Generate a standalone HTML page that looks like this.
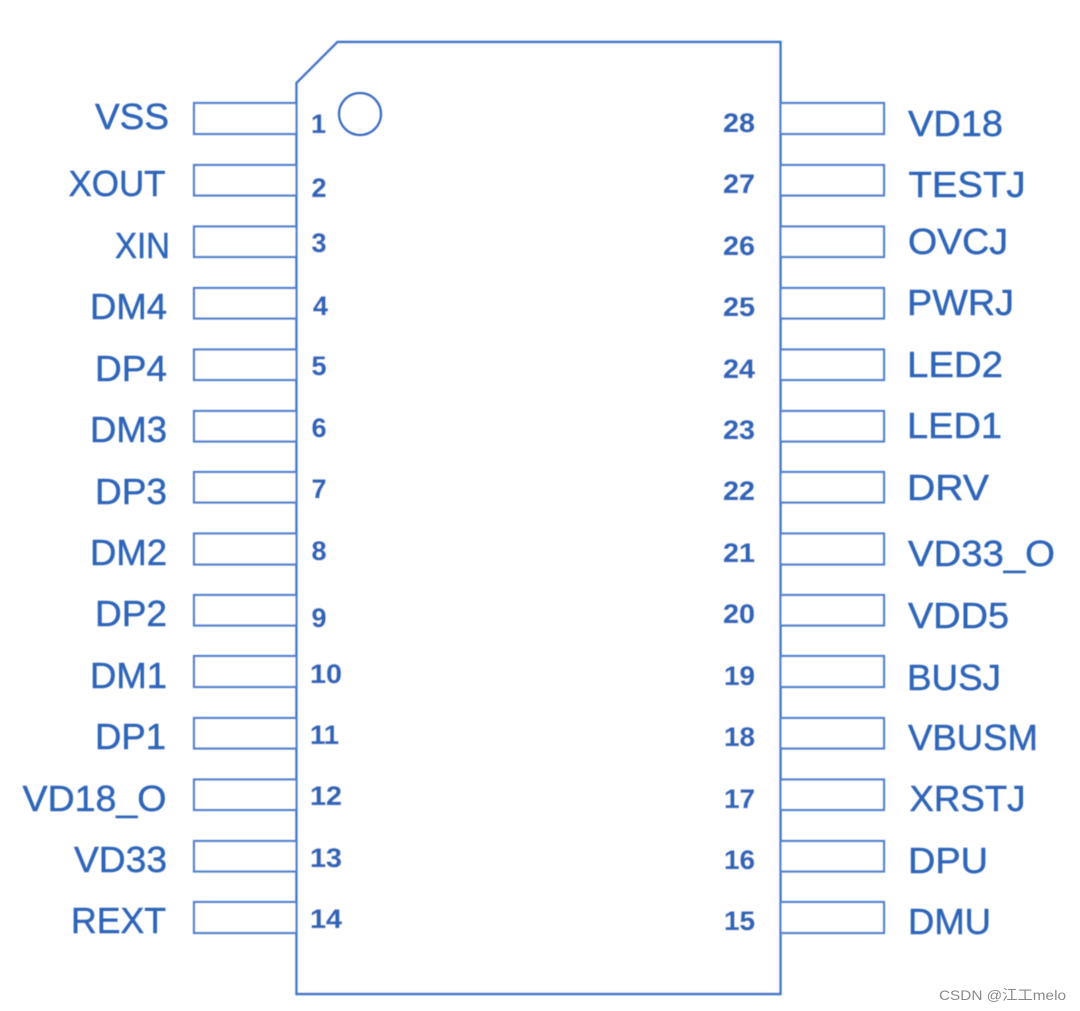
<!DOCTYPE html>
<html><head><meta charset="utf-8"><style>
html,body{margin:0;padding:0;background:#fff;width:1080px;height:1011px;overflow:hidden}
svg{display:block}
.l{font:36px "Liberation Sans",sans-serif;fill:#2f65b8;stroke:#2f65b8;stroke-width:.45}
.n{font:bold 27px "Liberation Sans",sans-serif;fill:#2f65b8;stroke:#2f65b8;stroke-width:.3}
.p{fill:#fff;stroke:#4f80cc;stroke-width:2.2}
.w{font:14px "Liberation Sans","Noto Sans CJK SC",sans-serif;fill:#8a8a8a}
</style></head><body>
<svg width="1080" height="1011" viewBox="0 0 1080 1011" xmlns="http://www.w3.org/2000/svg">
<defs><filter id="b" x="-5%" y="-5%" width="110%" height="110%"><feGaussianBlur stdDeviation="0.5"/></filter></defs>
<g filter="url(#b)">
<path d="M296.5 83 L337.5 42 H780.5 V994 H296.5 Z" fill="#fff" stroke="#3f74c6" stroke-width="2.4"/>
<circle cx="360" cy="114" r="21" fill="none" stroke="#3670c4" stroke-width="2.6"/>
<g class="p">
<rect x="194" y="103" width="102.5" height="31"/><rect x="194" y="165" width="102.5" height="30.5"/><rect x="194" y="226.5" width="102.5" height="30.5"/><rect x="194" y="288" width="102.5" height="30.5"/><rect x="194" y="349.5" width="102.5" height="30.5"/><rect x="194" y="411" width="102.5" height="30.5"/><rect x="194" y="472" width="102.5" height="30.5"/><rect x="194" y="533.5" width="102.5" height="31"/><rect x="194" y="595" width="102.5" height="30.5"/><rect x="194" y="656" width="102.5" height="31"/><rect x="194" y="718" width="102.5" height="30.5"/><rect x="194" y="779.5" width="102.5" height="30.5"/><rect x="194" y="841" width="102.5" height="30.5"/><rect x="194" y="902" width="102.5" height="31"/>
<rect x="780.5" y="103" width="103.5" height="31"/><rect x="780.5" y="165" width="103.5" height="30.5"/><rect x="780.5" y="226.5" width="103.5" height="30.5"/><rect x="780.5" y="288" width="103.5" height="30.5"/><rect x="780.5" y="349.5" width="103.5" height="30.5"/><rect x="780.5" y="411" width="103.5" height="30.5"/><rect x="780.5" y="472" width="103.5" height="30.5"/><rect x="780.5" y="533.5" width="103.5" height="31"/><rect x="780.5" y="595" width="103.5" height="30.5"/><rect x="780.5" y="656" width="103.5" height="31"/><rect x="780.5" y="718" width="103.5" height="30.5"/><rect x="780.5" y="779.5" width="103.5" height="30.5"/><rect x="780.5" y="841" width="103.5" height="30.5"/><rect x="780.5" y="902" width="103.5" height="31"/>
</g>
<g class="l">
<text x="95" y="129" textLength="74" lengthAdjust="spacingAndGlyphs">VSS</text>
<text x="68.5" y="196" textLength="97" lengthAdjust="spacingAndGlyphs">XOUT</text>
<text x="115" y="258" textLength="55" lengthAdjust="spacingAndGlyphs">XIN</text>
<text x="90" y="319" textLength="77" lengthAdjust="spacingAndGlyphs">DM4</text>
<text x="95" y="381" textLength="72" lengthAdjust="spacingAndGlyphs">DP4</text>
<text x="90" y="442" textLength="77" lengthAdjust="spacingAndGlyphs">DM3</text>
<text x="95" y="504" textLength="72" lengthAdjust="spacingAndGlyphs">DP3</text>
<text x="90" y="565" textLength="77" lengthAdjust="spacingAndGlyphs">DM2</text>
<text x="95" y="626" textLength="72" lengthAdjust="spacingAndGlyphs">DP2</text>
<text x="90" y="688" textLength="77" lengthAdjust="spacingAndGlyphs">DM1</text>
<text x="95" y="749" textLength="71" lengthAdjust="spacingAndGlyphs">DP1</text>
<text x="22.5" y="811" textLength="144" lengthAdjust="spacingAndGlyphs">VD18_O</text>
<text x="74" y="872" textLength="93" lengthAdjust="spacingAndGlyphs">VD33</text>
<text x="71" y="933" textLength="95" lengthAdjust="spacingAndGlyphs">REXT</text>
<text x="908" y="136" textLength="95" lengthAdjust="spacingAndGlyphs">VD18</text>
<text x="908.5" y="197" textLength="117" lengthAdjust="spacingAndGlyphs">TESTJ</text>
<text x="908" y="254" textLength="100" lengthAdjust="spacingAndGlyphs">OVCJ</text>
<text x="907" y="315" textLength="107" lengthAdjust="spacingAndGlyphs">PWRJ</text>
<text x="907" y="377" textLength="96" lengthAdjust="spacingAndGlyphs">LED2</text>
<text x="907" y="438" textLength="95" lengthAdjust="spacingAndGlyphs">LED1</text>
<text x="907" y="500" textLength="82" lengthAdjust="spacingAndGlyphs">DRV</text>
<text x="908" y="566" textLength="147" lengthAdjust="spacingAndGlyphs">VD33_O</text>
<text x="908" y="628" textLength="101" lengthAdjust="spacingAndGlyphs">VDD5</text>
<text x="907" y="690" textLength="94" lengthAdjust="spacingAndGlyphs">BUSJ</text>
<text x="908" y="750" textLength="130" lengthAdjust="spacingAndGlyphs">VBUSM</text>
<text x="909.5" y="811" textLength="116" lengthAdjust="spacingAndGlyphs">XRSTJ</text>
<text x="908" y="873" textLength="80" lengthAdjust="spacingAndGlyphs">DPU</text>
<text x="908" y="934" textLength="83" lengthAdjust="spacingAndGlyphs">DMU</text>
</g>
<g class="n">
<text x="311" y="133">1</text><text x="311.5" y="197">2</text><text x="311.5" y="252">3</text><text x="313" y="315">4</text><text x="311.5" y="375">5</text><text x="311.5" y="437">6</text><text x="311.5" y="498">7</text><text x="311.5" y="560">8</text><text x="311.5" y="627">9</text>
<text x="310" y="683" textLength="32" lengthAdjust="spacingAndGlyphs">10</text><text x="310" y="744" textLength="29" lengthAdjust="spacingAndGlyphs">11</text><text x="310" y="805" textLength="32" lengthAdjust="spacingAndGlyphs">12</text><text x="310" y="867" textLength="32" lengthAdjust="spacingAndGlyphs">13</text><text x="310" y="928" textLength="32" lengthAdjust="spacingAndGlyphs">14</text>
<text x="723" y="132" textLength="32" lengthAdjust="spacingAndGlyphs">28</text><text x="723" y="193" textLength="32" lengthAdjust="spacingAndGlyphs">27</text><text x="723" y="255" textLength="32" lengthAdjust="spacingAndGlyphs">26</text><text x="723" y="316" textLength="32" lengthAdjust="spacingAndGlyphs">25</text><text x="723" y="378" textLength="32" lengthAdjust="spacingAndGlyphs">24</text><text x="723" y="439" textLength="32" lengthAdjust="spacingAndGlyphs">23</text><text x="723" y="500" textLength="32" lengthAdjust="spacingAndGlyphs">22</text><text x="723" y="562" textLength="32" lengthAdjust="spacingAndGlyphs">21</text><text x="723" y="623" textLength="32" lengthAdjust="spacingAndGlyphs">20</text><text x="724" y="685" textLength="31" lengthAdjust="spacingAndGlyphs">19</text><text x="724" y="746" textLength="31" lengthAdjust="spacingAndGlyphs">18</text><text x="724" y="808" textLength="31" lengthAdjust="spacingAndGlyphs">17</text><text x="724" y="869" textLength="31" lengthAdjust="spacingAndGlyphs">16</text><text x="724" y="930" textLength="31" lengthAdjust="spacingAndGlyphs">15</text>
</g>
</g>
<text class="w" x="939" y="1000" textLength="127" lengthAdjust="spacingAndGlyphs">CSDN @江工melo</text>
</svg>
</body></html>
